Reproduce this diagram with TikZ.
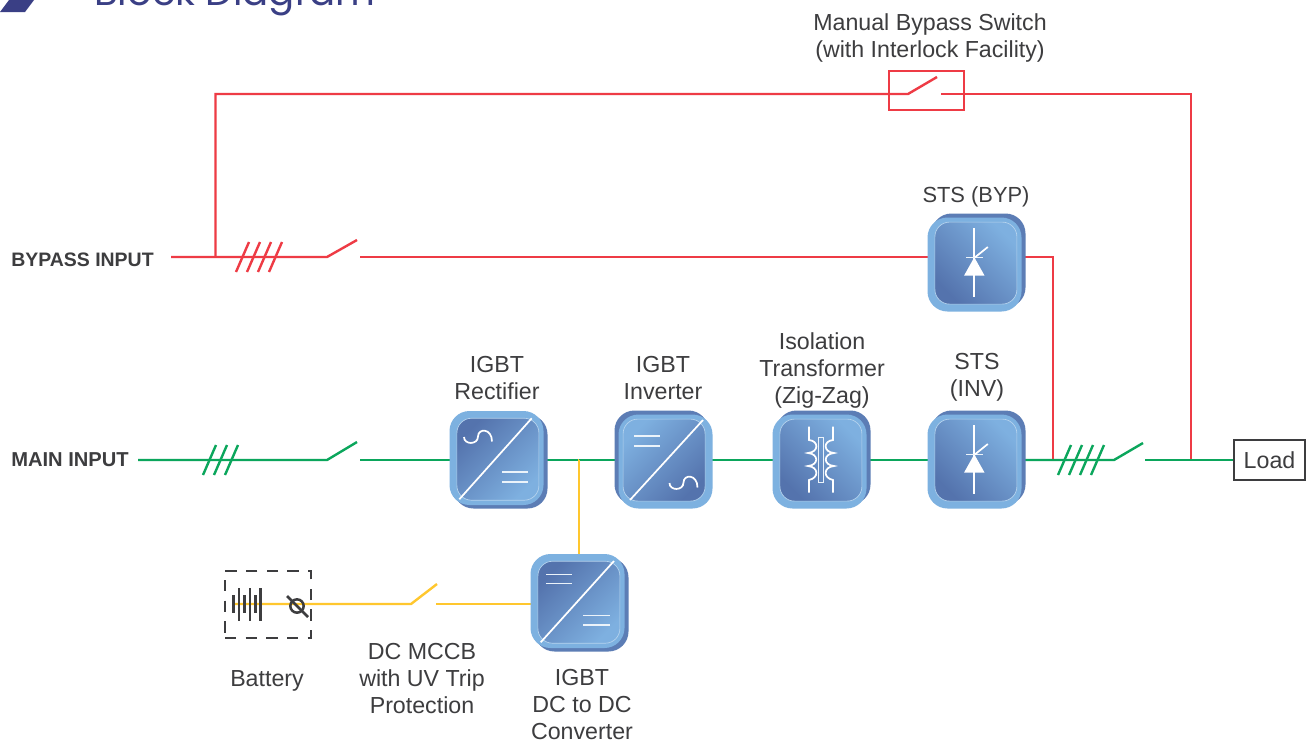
\documentclass[tikz,border=0pt]{standalone}
\usepackage{fontspec}
\setmainfont{Liberation Sans}
\newfontfamily\titlefont{Poppins}
\usetikzlibrary{backgrounds,calc}
\definecolor{redline}{HTML}{EE3B45}
\definecolor{greenline}{HTML}{0BA65C}
\definecolor{yellowline}{HTML}{FFC72E}
\definecolor{blockdarkc}{HTML}{5C7DB5}
\definecolor{blocklightc}{HTML}{7DB1E0}
\definecolor{innerdark}{HTML}{5473AD}
\definecolor{innerlight}{HTML}{7EB0E0}
\definecolor{inkc}{HTML}{3D3D3F}
\definecolor{navy}{HTML}{3A3F85}
\tikzset{
  redwire/.style={draw=redline,line width=1.8pt},
  greenwire/.style={draw=greenline,line width=1.8pt},
  yellowwire/.style={draw=yellowline,line width=1.8pt},
  blockdark/.style={fill=blockdarkc,minimum size=70.5pt,inner sep=0pt,outer sep=0pt,rounded corners=15pt},
  blocklight/.style={fill=blocklightc,minimum size=70.5pt,inner sep=0pt,outer sep=0pt,rounded corners=15pt},
  blockinner/.style={top color=innerlight,bottom color=innerdark,draw=white!45!blocklightc,line width=0.5pt,minimum size=61.5pt,inner sep=0pt,outer sep=0pt,rounded corners=11pt},
  symb/.style={draw=white,line width=1.3pt},
  symbthin/.style={draw=white!85!blocklightc,line width=1pt},
  lab/.style={font=\fontsize{17.4}{20.25}\selectfont,text=inkc,align=center,inner sep=0pt},
  boldlab/.style={font=\fontsize{14.6}{16}\selectfont\bfseries,text=inkc,anchor=base west,inner sep=0pt},
  batt/.style={draw=inkc,line width=1.9pt},
}
\newcommand{\blk}[6]{%
  \node[blockdark] (#1d) at ({#2+(#4)},{#3+(#5)}) {};
  \node[blocklight] (#1) at (#2,#3) {};
  \node[blockinner,shading angle=#6] (#1i) at ({#2+0.35*(#4)},{#3+0.35*(#5)}) {};
}
\newcommand{\sinesym}[2]{%
  \draw[symb,shift={(#1,#2)}] (-14,0.5) .. controls (-14,8.5) and (0,8.5) .. (0,0) .. controls (0,-8.5) and (14,-8.5) .. (14,5);
}
\newcommand{\thyr}[2]{%
  \begin{scope}[shift={(#1,#2)}]
    \draw[symb] (0,-36.5) -- (0,32.5);
    \fill[white] (0,-7.2) -- (10.3,11.2) -- (-10.3,11.2) -- cycle;
    \draw[symbthin] (-8.3,-7.2) -- (8.4,-7.2);
    \draw[symb] (0.5,-7) -- (13.5,-17.5);
  \end{scope}
}
\begin{document}
\begin{tikzpicture}[x=0.75pt,y=-0.75pt]
\path[use as bounding box,clip] (0,0) rectangle (1306,743);

% blocks
\blk{rect}{496.5}{458}{4}{3.5}{-135}
\blk{inv}{665.5}{461.5}{-4}{-4}{45}
\blk{trafo}{819.5}{461.5}{4}{-4}{-45}
\blk{stsinv}{974.5}{461.5}{4}{-4}{-45}
\blk{stsbyp}{974.5}{264.5}{4}{-4}{-45}
\blk{dcdc}{577.5}{601}{4}{3.5}{-135}

% rectifier symbols
\draw[symb] (459.3,499.3) -- (531.7,418.3);
\sinesym{478}{436.5}
\draw[symbthin] (502,472) -- (528,472) (502,482) -- (528,482);
% inverter symbols
\draw[symb] (630,500) -- (703,420);
\draw[symbthin] (634,436) -- (660,436) (634,446) -- (660,446);
\sinesym{683.5}{482.5}
% dc-dc symbols
\draw[symb] (540.7,642.3) -- (614,561);
\draw[symbthin] (546,574.3) -- (572,574.3) (546,583.7) -- (572,583.7);
\draw[symbthin] (583,615.7) -- (610,615.7) (583,625) -- (610,625);
% transformer symbol
\draw[symbthin] (818.3,437.3) rectangle (823.6,482.7);
\draw[symb] (809,426.7) -- (809,440)
  .. controls (819,441) and (819,452) .. (808,453)
  .. controls (819,454) and (819,465) .. (808,466)
  .. controls (819,467) and (819,478) .. (809,480) -- (809,492.5);
\draw[symb] (833,426.7) -- (833,440)
  .. controls (823,441) and (823,452) .. (834,453)
  .. controls (823,454) and (823,465) .. (834,466)
  .. controls (823,467) and (823,478) .. (833,480) -- (833,492.5);
% thyristors
\thyr{974.3}{461.5}
\thyr{974.3}{264.5}

% reference coordinates
\coordinate (ybyp) at (0,257);
\coordinate (ymain) at (0,460);
\coordinate (ytop) at (0,94);
\coordinate (ydc) at (0,604);

% bypass-switch box, load, input ends
\node[draw=redline,line width=1.8pt,minimum width=56.25pt,minimum height=29.25pt,inner sep=0pt,outer sep=0pt] (mbs) at (926.5,90.5) {};
\node[draw=inkc,line width=1.8pt,minimum width=53.25pt,minimum height=30pt,inner sep=0pt,outer sep=0pt,font=\fontsize{17.4}{20}\selectfont,text=inkc] (load) at (1269.5,460) {Load};
\coordinate (bypstart) at (171,257);
\coordinate (bypsw1) at (327,257);
\coordinate (bypsw2) at (357,240);
\coordinate (bypres) at (360,257);
\coordinate (byptap) at (215.5,257);
\coordinate (topl) at (215.5,94);
\coordinate (mbs1) at (908,94);
\coordinate (mbs2) at (937,77);
\coordinate (mbs3) at (941,94);
\coordinate (topr) at (1191,94);
\coordinate (outtap) at (1191,460);
\coordinate (bypr) at (1053,257);
\coordinate (bypj) at (1053,460);
\coordinate (mainstart) at (138,460);
\coordinate (mainsw1) at (327,460);
\coordinate (mainsw2) at (357,442);
\coordinate (mainres) at (360,460);
\coordinate (outsw1) at (1114,460);
\coordinate (outsw2) at (1143,443);
\coordinate (outres) at (1145,460);
\coordinate (dcj) at (579,460);
\coordinate (battstart) at (233,604);
\coordinate (dcsw1) at (411,604);
\coordinate (dcsw2) at (437,584);
\coordinate (dcres) at (436,604);

\begin{pgfonlayer}{background}
  \fill[white] (0,0) rectangle (1306,743);
  % red
  \draw[redwire] (bypstart) -- (bypsw1) -- (bypsw2);
  \draw[redwire] (bypres) -- (stsbyp.center |- ybyp);
  \draw[redwire] (byptap) -- (topl) -- (mbs1) -- (mbs2);
  \draw[redwire] (mbs3) -- (topr) -- (outtap);
  \draw[redwire] (stsbyp.center |- ybyp) -- (bypr) -- (bypj);
  % green
  \draw[greenwire] (mainstart) -- (mainsw1) -- (mainsw2);
  \draw[greenwire] (mainres) -- (rect.center |- ymain);
  \draw[greenwire] (rect.center |- ymain) -- (inv.center |- ymain);
  \draw[greenwire] (inv.center |- ymain) -- (trafo.center |- ymain);
  \draw[greenwire] (trafo.center |- ymain) -- (stsinv.center |- ymain);
  \draw[greenwire] (stsinv.center |- ymain) -- (outsw1) -- (outsw2);
  \draw[greenwire] (outres) -- (load.west);
  % yellow
  \draw[yellowwire] (dcj) -- (dcdc.center |- dcj);
  \draw[yellowwire] (dcj) -- (dcj |- dcdc.center);
  \draw[yellowwire] (battstart) -- (dcsw1) -- (dcsw2);
  \draw[yellowwire] (dcres) -- (dcdc.center |- ydc);
\end{pgfonlayer}

% slashes
\foreach \x in {236,247,258,269} \draw[draw=redline,line width=1.8pt] (\x,272) -- (\x+13,242);
\foreach \x in {203,214,225} \draw[draw=greenline,line width=1.8pt] (\x,475) -- (\x+13,445);
\foreach \x in {1058,1069,1080,1091} \draw[draw=greenline,line width=1.8pt] (\x,475) -- (\x+13,445);

% battery
\node[draw=inkc,line width=1.9pt,dash pattern=on 8.5pt off 7pt,minimum width=64.5pt,minimum height=50.25pt,inner sep=0pt,outer sep=0pt] (battbox) at (268,604.5) {};
\foreach \x in {233.3,244.3,255.7} \draw[batt] (\x,595) -- (\x,613);
\foreach \x in {239,250,260.7} \draw[batt] (\x,588) -- (\x,621);
\draw[batt] (297,606) circle (5pt);
\draw[batt] (287,596) -- (308,617);

% title
\fill[navy] (0,12) -- (25,12) -- (34,0) -- (9,0) -- cycle;
\node[anchor=base west,inner sep=0pt,text=navy,font=\titlefont\fontsize{29}{34}\selectfont] (title) at (94,5) {Block Diagram};

% labels
\node[lab] (lmbs) at (930,38) {Manual Bypass Switch\\(with Interlock Facility)};
\node[lab,font=\fontsize{16.4}{20}\selectfont] (lbyp) at (976,197) {STS (BYP)};
\node[lab] (lrect) at (497,378) {IGBT\\Rectifier};
\node[lab] (linv) at (663,378) {IGBT\\Inverter};
\node[lab] (ltrafo) at (822,370) {Isolation\\Transformer\\(Zig-Zag)};
\node[lab] (lsts) at (977,377) {STS\\(INV)};
\node[lab] (lbatt) at (267,680.5) {Battery};
\node[lab] (lmccb) at (422,679) {DC MCCB\\with UV Trip\\Protection};
\node[lab] (ldcdc) at (582,705) {IGBT\\DC to DC\\Converter};
\node[boldlab] (lbi) at (11,266.5) {BYPASS INPUT};
\node[boldlab,font=\fontsize{15.1}{16}\selectfont\bfseries] (lmi) at (11,466.5) {MAIN INPUT};
\end{tikzpicture}
\end{document}
